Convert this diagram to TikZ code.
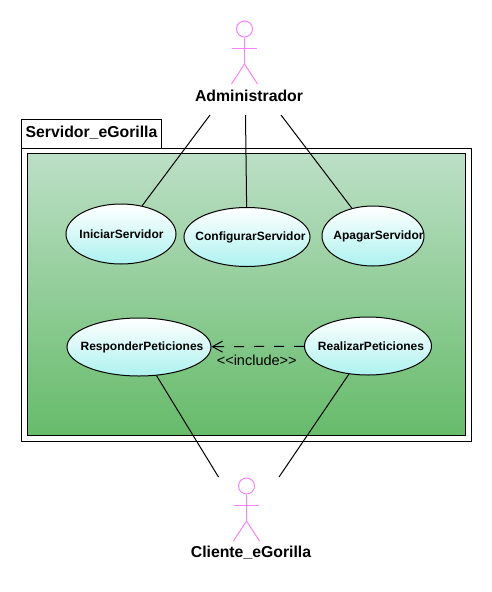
\documentclass[tikz,border=0pt]{standalone}
\usepackage{fontspec}
\setmainfont{Liberation Sans}
\usetikzlibrary{arrows.meta,shapes.geometric}
\definecolor{actorpink}{HTML}{FF80FF}
\definecolor{caseaqua}{HTML}{ACF2EF}
\definecolor{paneltop}{HTML}{BCDFC6}
\definecolor{panelbottom}{HTML}{66BB6A}
\newcommand*{\casename}[2]{\makebox[0pt]{\hspace*{#1}#2}}
\newcommand*{\stickman}[3]{%
    \node[actorhead] (#1) at (#2,#3) {};
    \draw[actorline] (#1.south) -- ++(0,26.5) coordinate (#1hip);
    \draw[actorline] ([shift={(-13,10.5)}]#1.south) -- ++(25.5,0);
    \draw[actorline] (#1hip) -- ++(-13,20);
    \draw[actorline] (#1hip) -- ++(13,20);
}
\tikzset{
    actorhead/.style={circle,draw=actorpink,line width=1pt,minimum size=16pt,inner sep=0pt},
    actorline/.style={draw=actorpink,line width=1pt},
    bigname/.style={font=\fontsize{15.8}{18}\selectfont\bfseries,inner sep=0pt,text=black},
    usecase/.style={ellipse,draw=black,line width=1pt,top color=white,bottom color=caseaqua,inner sep=0pt,
        font=\fontsize{12}{14}\selectfont\bfseries},
    assoc/.style={draw=black,line width=1pt},
}
\begin{document}
\begin{tikzpicture}[x=1pt,y=-1pt,>={Straight Barb[length=10pt,width=11pt]}]
    \useasboundingbox (0,0) rectangle (492,592);
    \node[draw=black,line width=1pt,minimum width=140pt,minimum height=28.5pt,inner sep=0pt] (tab) at (91.5,133.75) {};
    \node[bigname] (tabname) at (91.5,133) {Servidor\_eGorilla};
    \node[draw=black,line width=1pt,minimum width=449.5pt,minimum height=293pt,inner sep=0pt] (package) at (246.25,294.5) {};
    \node[draw=black,line width=1pt,top color=paneltop,bottom color=panelbottom,minimum width=438.5pt,minimum height=282pt,inner sep=0pt] (panel) at (246.25,294.5) {};

    \stickman{admin}{244.5}{29}
    \node[bigname] (adminname) at (249,96) {Administrador};
    \stickman{cliente}{246.5}{486}
    \node[bigname] (clientename) at (251,553) {Cliente\_eGorilla};

    \node[usecase,minimum width=110pt,minimum height=60pt] (iniciar) at (121,234) {\casename{1pt}{IniciarServidor}};
    \node[usecase,minimum width=126pt,minimum height=59pt] (configurar) at (247,237) {\casename{7pt}{ConfigurarServidor}};
    \node[usecase,minimum width=102pt,minimum height=60pt] (apagar) at (373,236) {\casename{11pt}{ApagarServidor}};
    \node[usecase,minimum width=144pt,minimum height=58pt] (responder) at (139,347) {\casename{6pt}{ResponderPeticiones}};
    \node[usecase,minimum width=127pt,minimum height=58pt] (realizar) at (368,346) {\casename{6pt}{RealizarPeticiones}};

    \coordinate (adminL) at (210,115);
    \coordinate (adminM) at (245.5,115);
    \coordinate (adminR) at (281,115);
    \coordinate (clienteL) at (218.5,477);
    \coordinate (clienteR) at (279,477);

    \path[assoc]
    (adminL) edge (iniciar)
    (adminM) edge (configurar)
    (adminR) edge (apagar)
    (responder) edge (clienteL)
    (realizar) edge (clienteR);

    \draw[->,line width=1pt,dash pattern=on 10pt off 10pt] (realizar) -- node[font=\fontsize{14.5}{16}\selectfont,inner sep=0pt,yshift=-14pt,xshift=-1pt] (includename) {<{}<include>{}>} (responder);
\end{tikzpicture}
\end{document}
